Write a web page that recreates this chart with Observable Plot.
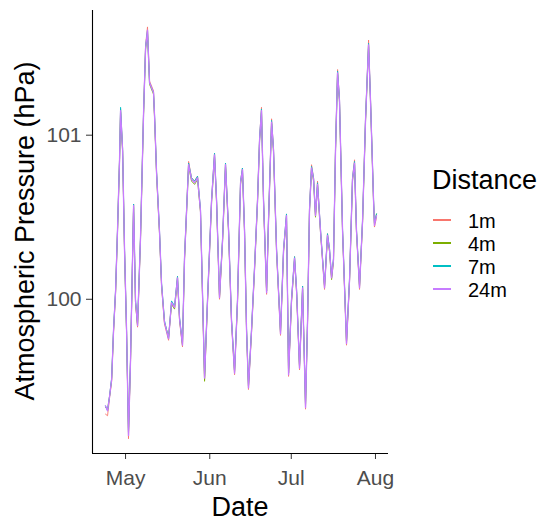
<!DOCTYPE html>
<html>
<head>
<meta charset="utf-8">
<script src="https://cdn.jsdelivr.net/npm/d3@7"></script>
<script src="https://cdn.jsdelivr.net/npm/@observablehq/plot@0.6"></script>
<style>
  body { margin: 0; background: #fff; font-family: "Liberation Sans", Arial, sans-serif; }
  #wrap { position: relative; width: 545px; height: 523px; overflow: hidden; background: #fff; }
  #chart { position: absolute; left: 0; top: 0; }
  .ttl { position: absolute; color: #000; white-space: nowrap; line-height: 1; font-size: 27px; }
  #ylab { left: 25px; top: 231px; transform: translate(-50%, -50%) rotate(-90deg); }
  #xlab { left: 240px; top: 494px; transform: translateX(-50%); }
  #legtitle { left: 432px; top: 167px; }
  .key { position: absolute; left: 433px; width: 18px; height: 1.5px; }
  .klab { position: absolute; left: 468px; font-size: 20px; line-height: 1; color: #000; white-space: nowrap; }
  #chart g[aria-label="x-axis tick label"], #chart g[aria-label="y-axis tick label"] { fill: #4D4D4D; }
</style>
</head>
<body>
<div id="wrap">
  <div id="chart"></div>
  <div id="ylab" class="ttl">Atmospheric Pressure (hPa)</div>
  <div id="xlab" class="ttl">Date</div>
  <div id="legtitle" class="ttl">Distance</div>
  <div id="legend"></div>
</div>
<script>
// ---- Data ----
const distances = ["1m", "4m", "7m", "24m"];
const colors = ["#F8766D", "#7CAE00", "#00BFC4", "#C77CFF"];

const times = [
  "2019-04-23 15","2019-04-24 09","2019-04-25 03","2019-04-25 21","2019-04-26 14","2019-04-27 08","2019-04-28 01","2019-04-28 19","2019-04-29 04","2019-04-29 22",
  "2019-04-30 15","2019-05-01 09","2019-05-02 02","2019-05-02 20","2019-05-03 23","2019-05-04 16","2019-05-05 10","2019-05-06 12","2019-05-07 15","2019-05-08 09",
  "2019-05-09 02","2019-05-09 20","2019-05-11 07","2019-05-11 16","2019-05-12 10","2019-05-13 12","2019-05-14 06","2019-05-15 08","2019-05-16 20","2019-05-17 22",
  "2019-05-19 01","2019-05-20 03","2019-05-20 21","2019-05-21 23","2019-05-22 17","2019-05-24 05","2019-05-25 07","2019-05-26 10","2019-05-27 12","2019-05-28 14",
  "2019-05-30 02","2019-05-31 04","2019-06-01 16","2019-06-02 18","2019-06-03 12","2019-06-04 14","2019-06-05 17","2019-06-06 19","2019-06-07 22","2019-06-09 00",
  "2019-06-10 03","2019-06-11 05","2019-06-12 08","2019-06-13 01","2019-06-13 19","2019-06-14 13","2019-06-15 06","2019-06-16 09","2019-06-17 11","2019-06-18 14",
  "2019-06-19 08","2019-06-20 01","2019-06-20 19","2019-06-21 22","2019-06-22 15","2019-06-23 18","2019-06-24 11","2019-06-25 14","2019-06-27 01","2019-06-28 04",
  "2019-06-29 06","2019-06-30 00","2019-07-01 02","2019-07-02 05","2019-07-02 23","2019-07-04 01","2019-07-05 04","2019-07-06 06","2019-07-07 00","2019-07-07 17",
  "2019-07-08 11","2019-07-09 05","2019-07-09 22","2019-07-10 16","2019-07-11 18","2019-07-13 06","2019-07-14 08","2019-07-15 02","2019-07-15 20","2019-07-16 13",
  "2019-07-17 07","2019-07-18 01","2019-07-18 18","2019-07-19 21","2019-07-21 08","2019-07-22 11","2019-07-23 13","2019-07-24 07","2019-07-25 00","2019-07-26 03",
  "2019-07-27 06","2019-07-28 08","2019-07-29 02","2019-07-29 11","2019-07-30 04","2019-07-31 07","2019-07-31 15","2019-08-01 09"
];

const pressure1m = [
  99.30,99.29,99.40,99.50,99.80,100.05,100.42,100.86,101.16,100.91,
  100.30,99.80,99.15,99.62,100.58,99.98,99.83,100.37,101.14,101.55,
  101.66,101.33,101.27,101.12,100.77,100.41,100.08,99.85,99.75,99.98,
  99.95,100.14,99.87,99.71,100.25,100.84,100.74,100.72,100.75,100.54,
  99.51,99.99,100.61,100.89,100.60,100.00,100.36,100.83,100.42,99.86,
  99.54,99.99,100.72,100.80,100.42,99.80,99.45,99.81,100.18,100.61,
  100.98,101.17,100.60,100.03,100.48,101.10,100.92,100.30,99.78,100.30,
  100.52,99.53,99.99,100.26,100.05,99.57,100.08,99.33,99.86,100.55,
  100.82,100.74,100.51,100.72,100.42,100.06,100.40,100.30,100.13,100.24,
  100.92,101.40,101.22,100.42,99.72,100.12,100.74,100.85,100.42,100.06,
  100.48,101.10,101.41,101.58,101.22,100.60,100.44,100.50
];
const pressure4m = [
  99.34,99.33,99.41,99.51,99.81,100.04,100.41,100.84,101.14,100.90,
  100.29,99.80,99.19,99.63,100.56,99.98,99.84,100.36,101.12,101.52,
  101.62,101.31,101.25,101.11,100.76,100.40,100.09,99.86,99.77,99.97,
  99.94,100.12,99.88,99.72,100.24,100.81,100.72,100.70,100.73,100.53,
  99.50,99.98,100.59,100.87,100.59,100.01,100.35,100.81,100.41,99.87,
  99.56,99.98,100.70,100.78,100.41,99.81,99.47,99.80,100.17,100.59,
  100.96,101.14,100.59,100.05,100.47,101.07,100.90,100.29,99.80,100.29,
  100.50,99.55,99.98,100.24,100.04,99.59,100.06,99.36,99.87,100.53,
  100.79,100.72,100.50,100.69,100.41,100.08,100.38,100.29,100.12,100.23,
  100.90,101.37,101.20,100.41,99.74,100.11,100.72,100.82,100.41,100.08,
  100.47,101.08,101.39,101.54,101.20,100.59,100.46,100.52
];
const pressure7m = [
  99.35,99.32,99.41,99.52,99.82,100.06,100.43,100.86,101.17,100.92,
  100.31,99.81,99.18,99.64,100.58,100.00,99.85,100.38,101.14,101.54,
  101.64,101.32,101.26,101.13,100.78,100.42,100.10,99.87,99.76,99.99,
  99.96,100.14,99.89,99.73,100.26,100.83,100.74,100.72,100.75,100.55,
  99.53,100.00,100.61,100.89,100.61,100.02,100.37,100.83,100.43,99.88,
  99.56,100.00,100.72,100.80,100.43,99.82,99.47,99.82,100.19,100.61,
  100.98,101.16,100.61,100.05,100.49,101.09,100.92,100.31,99.80,100.31,
  100.52,99.55,100.00,100.26,100.06,99.59,100.08,99.35,99.88,100.55,
  100.81,100.74,100.52,100.71,100.43,100.08,100.40,100.31,100.14,100.25,
  100.92,101.39,101.22,100.43,99.74,100.13,100.74,100.84,100.43,100.08,
  100.49,101.10,101.41,101.56,101.22,100.61,100.46,100.52
];
const pressure24m = [
  99.35,99.32,99.41,99.51,99.81,100.05,100.42,100.85,101.15,100.91,
  100.30,99.81,99.17,99.63,100.57,99.99,99.84,100.37,101.13,101.53,
  101.64,101.32,101.26,101.12,100.77,100.41,100.09,99.86,99.76,99.98,
  99.95,100.13,99.88,99.72,100.25,100.82,100.73,100.71,100.74,100.54,
  99.52,99.99,100.60,100.88,100.60,100.01,100.36,100.82,100.42,99.87,
  99.55,99.99,100.71,100.79,100.42,99.81,99.46,99.81,100.18,100.60,
  100.97,101.15,100.60,100.04,100.48,101.08,100.91,100.30,99.79,100.30,
  100.51,99.54,99.99,100.25,100.05,99.58,100.07,99.34,99.87,100.54,
  100.80,100.73,100.51,100.70,100.42,100.07,100.39,100.30,100.13,100.24,
  100.91,101.38,101.21,100.42,99.73,100.12,100.73,100.83,100.42,100.07,
  100.48,101.09,101.40,101.55,101.21,100.60,100.45,100.51
];

const monthTicks = ["2019-05-01 00", "2019-06-01 00", "2019-07-01 00", "2019-08-01 00"];
const monthLabels = ["May", "Jun", "Jul", "Aug"];
const pressureTicks = [100, 101];

// ---- Build table ----
const parse = d3.utcParse("%Y-%m-%d %H");
const seriesList = [pressure1m, pressure4m, pressure7m, pressure24m];
const rows = [];
distances.forEach((dist, k) => {
  seriesList[k].forEach((v, i) => rows.push({ date: parse(times[i]), value: v, distance: dist }));
});
const topSeries = distances[distances.length - 1];
const lowerRows = rows.filter(r => r.distance !== topSeries);
const topRows = rows.filter(r => r.distance === topSeries);
const tickDates = monthTicks.map(parse);
const labelOf = new Map(tickDates.map((d, i) => [+d, monthLabels[i]]));
const xDomain = [parse("2019-04-18 20"), parse("2019-08-05 19")];
const yDomain = [99.06, 101.76];

const chart = Plot.plot({
  width: 400,
  height: 523,
  marginLeft: 92,
  marginRight: 12,
  marginTop: 10,
  marginBottom: 70,
  style: { fontFamily: "'Liberation Sans', Arial, sans-serif", background: "transparent", overflow: "visible" },
  x: { type: "utc", domain: xDomain },
  y: { domain: yDomain },
  color: { domain: distances, range: colors },
  marks: [
    Plot.lineY(lowerRows, { x: "date", y: "value", z: "distance", stroke: "distance", strokeWidth: 0.9 }),
    Plot.lineY(topRows, { x: "date", y: "value", z: "distance", stroke: "distance", strokeWidth: 1.3 }),
    Plot.axisX({ ticks: tickDates, tickFormat: d => labelOf.get(+d), tickSize: 6, tickPadding: 11, fontSize: 21, color: "#333333", label: null }),
    Plot.axisY({ ticks: pressureTicks, tickFormat: d => String(d), tickSize: 6, tickPadding: 5, fontSize: 21, color: "#333333", label: null }),
    Plot.ruleX([xDomain[0]], { stroke: "black", strokeWidth: 1.1 }),
    Plot.ruleY([yDomain[0]], { stroke: "black", strokeWidth: 1.1 })
  ]
});
document.getElementById("chart").appendChild(chart);

// ---- Legend ----
const legend = document.getElementById("legend");
const keyY = [219, 242, 265, 288];
distances.forEach((dist, i) => {
  const k = document.createElement("div");
  k.className = "key";
  k.style.top = keyY[i] + "px";
  k.style.background = colors[i];
  legend.appendChild(k);
  const t = document.createElement("div");
  t.className = "klab";
  t.style.top = (keyY[i] - 8) + "px";
  t.textContent = dist;
  legend.appendChild(t);
});
</script>
</body>
</html>
